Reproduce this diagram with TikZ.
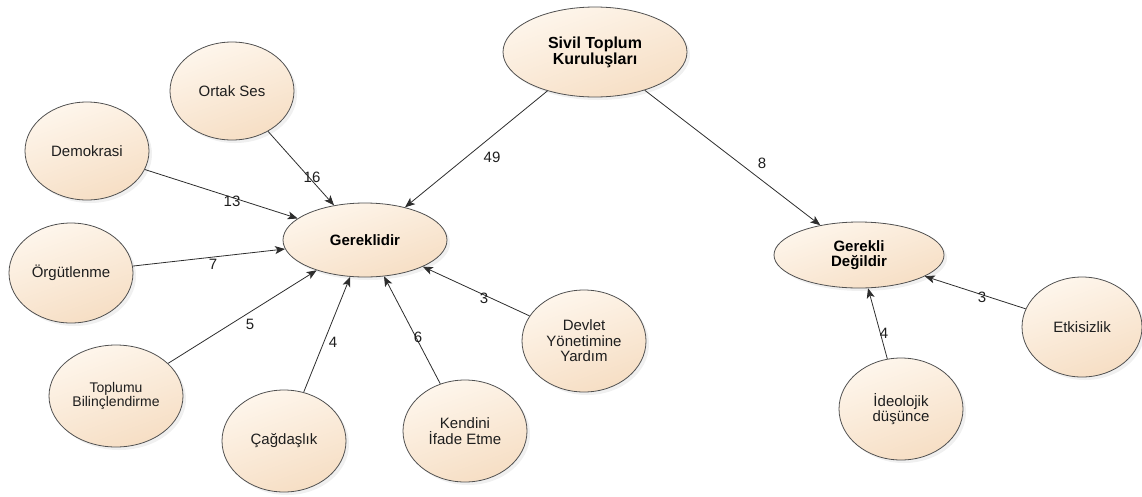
\documentclass[tikz,border=0pt]{standalone}
\usepackage{fontspec}
\setmainfont{Liberation Sans}
\usetikzlibrary{shapes.geometric,arrows.meta,shadows}
\definecolor{edgec}{RGB}{45,45,45}
\definecolor{rimc}{RGB}{80,80,80}
\definecolor{peachA}{RGB}{254,246,236}
\definecolor{peachB}{RGB}{246,222,196}
\definecolor{txtc}{RGB}{30,30,30}
\tikzset{
  bub/.style={ellipse, draw=rimc, line width=0.8pt, inner sep=0pt,
    top color=peachA, bottom color=peachB, shading angle=20,
    drop shadow={opacity=0.12, shadow xshift=3pt, shadow yshift=-3pt},
    align=center, text=txtc, font=\fontsize{15}{15.5}\selectfont},
  mainbub/.style={bub, text=black, font=\fontsize{15}{15.5}\selectfont\bfseries},
  conn/.style={draw=edgec, line width=0.8pt, -{Stealth[length=10pt,width=8pt,inset=2.5pt]}},
  num/.style={font=\fontsize{15}{15}\selectfont, text=txtc, inner sep=1pt}
}
\begin{document}
\begin{tikzpicture}[x=1pt,y=-1pt]
\useasboundingbox (0,0) rectangle (1142,496);
% nodes
\node[mainbub, minimum width=184, minimum height=90, font=\fontsize{16}{16}\selectfont\bfseries] (sivil) at (595,52) {Sivil Toplum\\Kurulu\c{s}lar\i};
\node[mainbub, minimum width=164, minimum height=74] (ger) at (365,240) {Gereklidir};
\node[mainbub, minimum width=170, minimum height=66] (gd) at (859,255) {Gerekli\\De\u{g}ildir};
\node[bub, minimum width=124, minimum height=98] (ortak) at (232,91) {Ortak Ses};
\node[bub, minimum width=124, minimum height=98] (demo) at (87,151) {Demokrasi};
\node[bub, minimum width=124, minimum height=100] (org) at (71,273) {Örgütlenme};
\node[bub, minimum width=134, minimum height=102, font=\fontsize{14}{14.5}\selectfont] (topl) at (116,396) {Toplumu\\Bilinçlendirme};
\node[bub, minimum width=124, minimum height=102] (cag) at (284,441) {Çağdaşlık};
\node[bub, minimum width=124, minimum height=102] (ken) at (465,431) {Kendini\\İfade Etme};
\node[bub, minimum width=124, minimum height=102] (dev) at (584,341) {Devlet\\Yönetimine\\Yardım};
\node[bub, minimum width=120, minimum height=100] (etk) at (1082,327) {Etkisizlik};
\node[bub, minimum width=124, minimum height=102] (ide) at (901,409) {İdeolojik\\düşünce};
% connectors
\foreach \s/\t in {sivil/ger, sivil/gd, ortak/ger, demo/ger, org/ger, topl/ger, cag/ger, ken/ger, dev/ger, ide/gd, etk/gd}{
  \path[conn] (\s) -- (\t);
}
% labels
\node[num] (l49) at (492,157) {49};
\node[num] (l8) at (762,163) {8};
\node[num] (l16) at (312,177) {16};
\node[num] (l13) at (232,201) {13};
\node[num] (l7) at (213,264) {7};
\node[num] (l5) at (250,324) {5};
\node[num] (l4a) at (333,342) {4};
\node[num] (l6) at (418,337) {6};
\node[num] (l3a) at (484,298) {3};
\node[num] (l4b) at (884,333) {4};
\node[num] (l3b) at (982,297) {3};
\end{tikzpicture}
\end{document}
